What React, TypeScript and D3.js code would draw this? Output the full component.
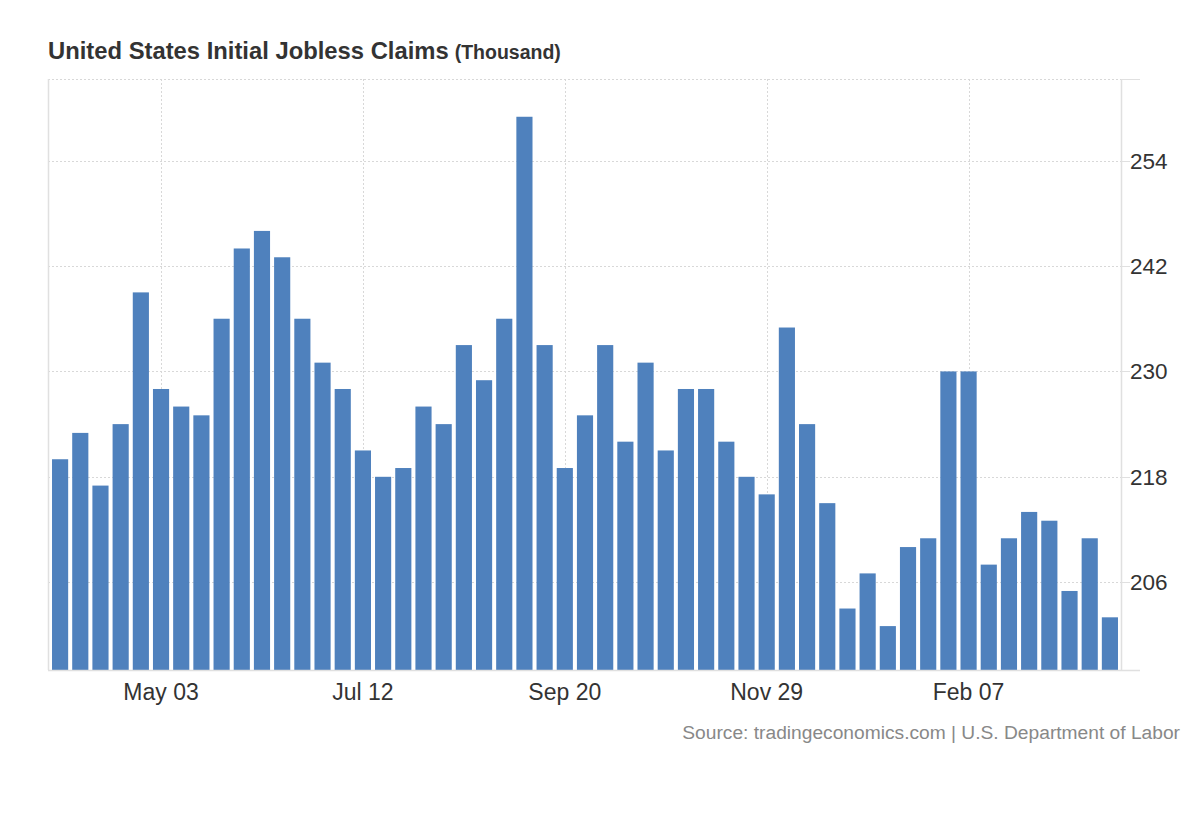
import * as d3 from "d3";

// weekly initial claims, thousands (week ending Mar 29 2025 .. Mar 28 2026)
const weeks: string[] = [
  "Mar 29", "Apr 05", "Apr 12", "Apr 19", "Apr 26", "May 03", "May 10", "May 17", "May 24", "May 31",
  "Jun 07", "Jun 14", "Jun 21", "Jun 28", "Jul 05", "Jul 12", "Jul 19", "Jul 26", "Aug 02", "Aug 09",
  "Aug 16", "Aug 23", "Aug 30", "Sep 06", "Sep 13", "Sep 20", "Sep 27", "Oct 04", "Oct 11", "Oct 18",
  "Oct 25", "Nov 01", "Nov 08", "Nov 15", "Nov 22", "Nov 29", "Dec 06", "Dec 13", "Dec 20", "Dec 27",
  "Jan 03", "Jan 10", "Jan 17", "Jan 24", "Jan 31", "Feb 07", "Feb 14", "Feb 21", "Feb 28", "Mar 07",
  "Mar 14", "Mar 21", "Mar 28",
];
const claims: number[] = [
  220, 223, 217, 224, 239, 228, 226, 225, 236, 244,
  246, 243, 236, 231, 228, 221, 218, 219, 226, 224,
  233, 229, 236, 259, 233, 219, 225, 233, 222, 231,
  221, 228, 228, 222, 218, 216, 235, 224, 215, 203,
  207, 201, 210, 211, 230, 230, 208, 211, 214, 213,
  205, 211, 202,
];
const xTickLabels: string[] = ["May 03", "Jul 12", "Sep 20", "Nov 29", "Feb 07"];
const yTicks: number[] = [206, 218, 230, 242, 254];

const font = "'Liberation Sans', Arial, sans-serif";
const gridColor = "#d8d8d8";
const axisColor = "#e0e0e0";

export default function App() {
  const width = 1200;
  const height = 820;
  const plot = { left: 48, right: 1121, top: 79, bottom: 670 };

  const x = d3
    .scaleBand<string>()
    .domain(weeks)
    .range([plot.left + 2, plot.right - 1])
    .paddingInner(0.2)
    .paddingOuter(0.1);

  const y = d3
    .scaleLinear()
    .domain([196, 263.3])
    .range([plot.bottom, plot.top]);

  const cx = (w: string) => (x(w) ?? 0) + x.bandwidth() / 2;

  return (
    <svg
      width={width}
      height={height}
      style={{ position: "absolute", left: 0, top: 0, background: "#fff" }}
      fontFamily={font}
    >
      {/* title */}
      <text x={48} y={59} fill="#333" fontWeight="bold">
        <tspan fontSize={23.8}>United States Initial Jobless Claims</tspan>
        <tspan fontSize={19.5} dx={6}>(Thousand)</tspan>
      </text>

      {/* horizontal grid */}
      {yTicks.map((t) => (
        <g key={t}>
          <line
            x1={plot.left}
            x2={plot.right}
            y1={Math.round(y(t)) + 0.5}
            y2={Math.round(y(t)) + 0.5}
            stroke={gridColor}
            strokeDasharray="2,2"
          />
          <line
            x1={plot.right}
            x2={plot.right + 9}
            y1={Math.round(y(t)) + 0.5}
            y2={Math.round(y(t)) + 0.5}
            stroke={axisColor}
          />
          <text
            x={plot.right + 9}
            y={y(t)}
            dy="0.35em"
            fontSize={22.5}
            fill="#333"
          >
            {t}
          </text>
        </g>
      ))}
      <line
        x1={plot.left}
        x2={plot.right}
        y1={plot.top + 0.5}
        y2={plot.top + 0.5}
        stroke={gridColor}
        strokeDasharray="2,2"
      />
      <line
        x1={plot.right}
        x2={1140}
        y1={plot.top + 0.5}
        y2={plot.top + 0.5}
        stroke={axisColor}
      />

      {/* vertical grid at labelled weeks */}
      {xTickLabels.map((w) => (
        <line
          key={w}
          x1={Math.round(cx(w)) + 0.5}
          x2={Math.round(cx(w)) + 0.5}
          y1={plot.top}
          y2={plot.bottom}
          stroke={gridColor}
          strokeDasharray="2,2"
        />
      ))}

      {/* bars */}
      {weeks.map((w, i) => (
        <rect
          key={w}
          x={x(w)}
          y={y(claims[i])}
          width={x.bandwidth()}
          height={plot.bottom - y(claims[i])}
          fill="#4f81bd"
        />
      ))}

      {/* axes lines */}
      <line
        x1={plot.left + 0.5}
        x2={plot.left + 0.5}
        y1={plot.top}
        y2={plot.bottom}
        stroke={axisColor}
        strokeWidth={1.5}
      />
      <line
        x1={plot.right + 0.5}
        x2={plot.right + 0.5}
        y1={plot.top}
        y2={plot.bottom}
        stroke={axisColor}
        strokeWidth={1.5}
      />
      <line
        x1={plot.left}
        x2={1140}
        y1={plot.bottom + 0.5}
        y2={plot.bottom + 0.5}
        stroke={axisColor}
        strokeWidth={1.5}
      />

      {/* x labels */}
      {xTickLabels.map((w) => (
        <text
          key={w}
          x={cx(w)}
          y={700}
          textAnchor="middle"
          fontSize={23}
          fill="#333"
        >
          {w}
        </text>
      ))}

      {/* source */}
      <text x={1180} y={739} textAnchor="end" fontSize={19.2} fill="#888">
        Source: tradingeconomics.com | U.S. Department of Labor
      </text>
    </svg>
  );
}
